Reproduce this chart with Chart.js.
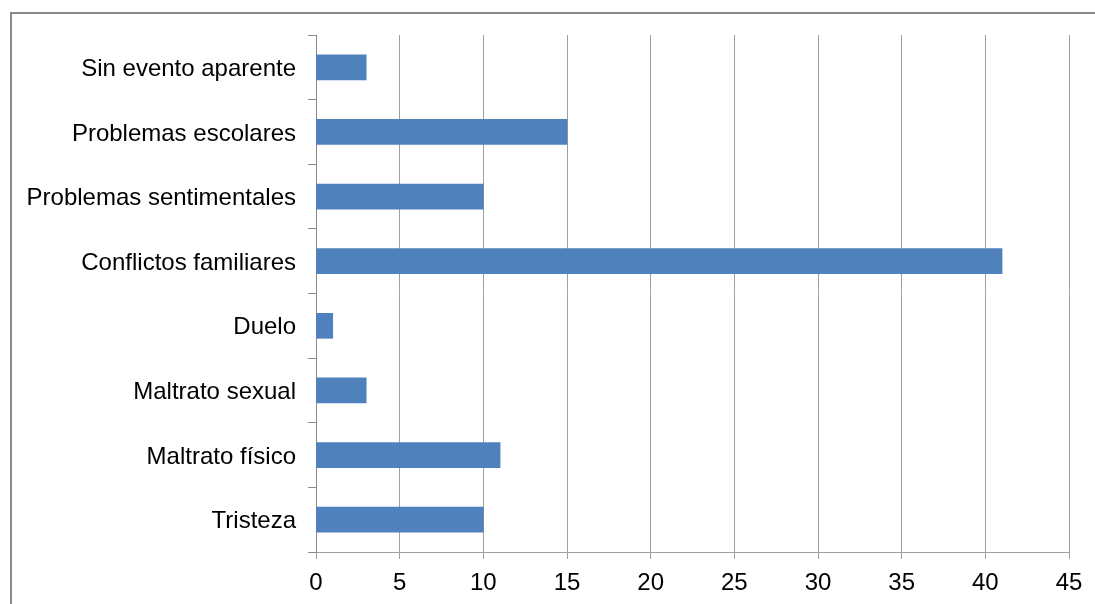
<!DOCTYPE html>
<html>
<head>
<meta charset="utf-8">
<script src="https://cdn.jsdelivr.net/npm/chart.js@4"></script>
<style>
  html, body { margin: 0; padding: 0; background: #fff; }
  #wrap { position: relative; width: 1095px; height: 604px; }
  #frame {
    position: absolute; left: 10px; top: 12px; right: -10px; bottom: -10px;
    border-left: 2px solid #8a8a8a; border-top: 2px solid #8a8a8a;
  }
  canvas { position: absolute; left: 0; top: 0; }
</style>
</head>
<body>
<div id="wrap">
  <div id="frame"></div>
  <canvas id="chartEventos" width="1095" height="604"></canvas>
</div>
<script>
const categorias = [
  "Sin evento aparente",
  "Problemas escolares",
  "Problemas sentimentales",
  "Conflictos familiares",
  "Duelo",
  "Maltrato sexual",
  "Maltrato físico",
  "Tristeza",
];
const casos = [3, 15, 10, 41, 1, 3, 11, 10];
const ejeMin = 0;
const ejeMax = 45;
const ejePaso = 5;

const fuente = { family: "'Liberation Sans', Arial, sans-serif", size: 24 };

const ctx = document.getElementById("chartEventos");
new Chart(ctx.getContext("2d"), {
  type: "bar",
  data: {
    labels: categorias,
    datasets: [
      {
        label: "Casos",
        data: casos,
        backgroundColor: "#4f81bd",
        borderWidth: 0,
        barThickness: 25,
      },
    ],
  },
  options: {
    indexAxis: "y",
    responsive: false,
    animation: false,
    layout: { padding: { top: 35, right: 26, left: 0, bottom: 0 } },
    plugins: { legend: { display: false }, tooltip: { enabled: false } },
    scales: {
      x: {
        min: ejeMin,
        max: ejeMax,
        ticks: { stepSize: ejePaso, color: "#000", font: fuente, padding: 10 },
        grid: { color: "#a0a0a0", lineWidth: 1, tickLength: 7 },
        border: { color: "#a0a0a0", width: 1 },
        afterFit: (scale) => { scale.height = 52; },
      },
      y: {
        ticks: { color: "#000", font: fuente, padding: 12, labelOffset: 2 },
        grid: { drawOnChartArea: false, offset: true, color: "#8a8a8a", tickLength: 8 },
        border: { color: "#8a8a8a", width: 1 },
        afterFit: (scale) => { scale.width = 316; },
      },
    },
  },
});
</script>
</body>
</html>
